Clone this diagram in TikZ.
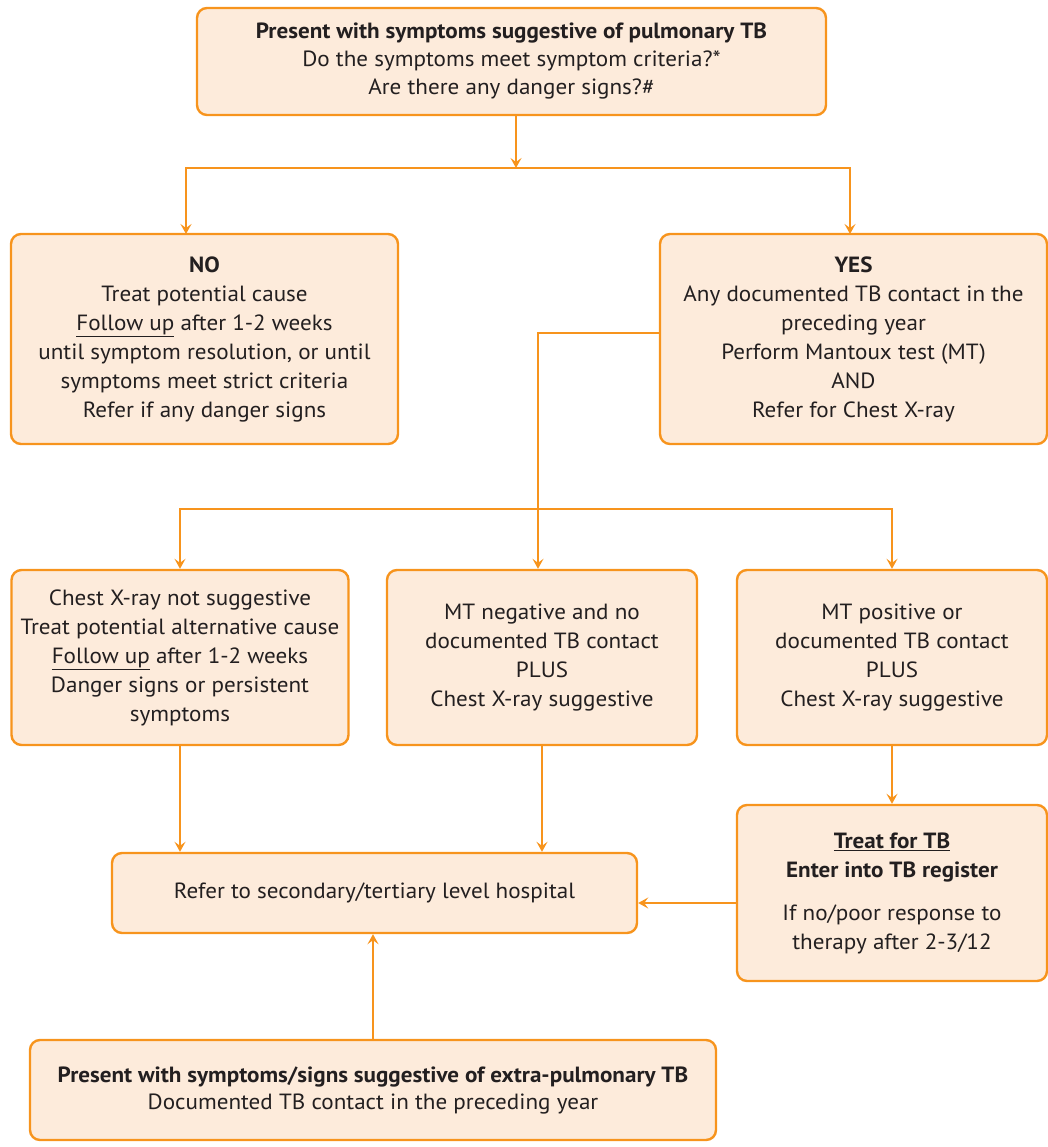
\documentclass[tikz,border=0pt]{standalone}
\usepackage{fontspec}
\setmainfont{PT Sans}[FakeStretch=1.05]
\usetikzlibrary{arrows.meta}
\definecolor{ob}{HTML}{F7941D}
\definecolor{of}{HTML}{FDEBDB}
\definecolor{tx}{HTML}{231F20}
\tikzset{
  box/.style={draw=ob, fill=of, line width=2.4pt, rounded corners=10pt, align=center,
    text=tx, inner sep=0pt, font=\fontsize{22}{29}\selectfont},
  conn/.style={draw=ob, line width=1.6pt},
  arr/.style={conn, -{Stealth[length=10pt,width=11pt,inset=4pt]}}
}
\newcommand{\ul}[1]{\underline{#1}}
\begin{document}
\begin{tikzpicture}[x=1pt,y=-1pt]
\useasboundingbox (0,0) rectangle (1048,1147);
% boxes
\node[box, minimum width=629pt, minimum height=107pt] (top) at (511.5,61.5)
  {\textbf{Present with symptoms suggestive of pulmonary TB}\\[-1pt]
   Do the symptoms meet symptom criteria?*\\[-1pt]
   Are there any danger signs?\#};
\node[box, minimum width=387pt, minimum height=210pt] (no) at (204.5,339)
  {\textbf{NO}\\Treat potential cause\\\ul{Follow up} after 1-2 weeks\\
   until symptom resolution, or until\\symptoms meet strict criteria\\Refer if any danger signs};
\node[box, minimum width=387pt, minimum height=210pt] (yes) at (853.5,339)
  {\textbf{YES}\\Any documented TB contact in the\\preceding year\\Perform Mantoux test (MT)\\AND\\Refer for Chest X-ray};
\node[box, minimum width=337pt, minimum height=175pt] (left) at (180,657.5)
  {Chest X-ray not suggestive\\Treat potential alternative cause\\\ul{Follow up} after 1-2 weeks\\Danger signs or persistent\\symptoms};
\node[box, minimum width=310pt, minimum height=175pt] (mid) at (542,657.5)
  {MT negative and no\\documented TB contact\\PLUS\\Chest X-ray suggestive};
\node[box, minimum width=310pt, minimum height=175pt] (right) at (892,657.5)
  {MT positive or\\documented TB contact\\PLUS\\Chest X-ray suggestive};
\node[box, minimum width=525pt, minimum height=80pt] (refer) at (374.5,893)
  {Refer to secondary/tertiary level hospital};
\node[box, minimum width=310pt, minimum height=176pt] (treat) at (892,893)
  {\textbf{\ul{Treat for TB}}\\\textbf{Enter into TB register}\\[14pt]If no/poor response to\\therapy after 2-3/12};
\node[box, minimum width=686pt, minimum height=100pt] (extra) at (373,1090)
  {\textbf{Present with symptoms/signs suggestive of extra-pulmonary TB}\\[-2pt]
   Documented TB contact in the preceding year};
% connectors
\coordinate (split) at (516,168);
\coordinate (noin) at (186,234);
\coordinate (yesin) at (850,234);
\coordinate (bar) at (538,509);
\draw[arr] (top.south -| split) -- (split);
\draw[arr] (split) -| (noin);
\draw[arr] (split) -| (yesin);
\draw[arr] ([yshift=6pt]yes.west) -| (mid.north -| bar);
\draw[arr] (bar) -| (left.north);
\draw[arr] (bar) -| (right.north);
\draw[arr] (left.south) -- (refer.north -| left.south);
\draw[arr] (mid.south) -- (refer.north -| mid.south);
\draw[arr] (right.south) -- (treat.north);
\draw[arr] ([yshift=-10pt]treat.west) -- ([yshift=-10pt]treat.west -| refer.east);
\draw[arr] (extra.north) -- (refer.south -| extra.north);
\end{tikzpicture}
\end{document}
